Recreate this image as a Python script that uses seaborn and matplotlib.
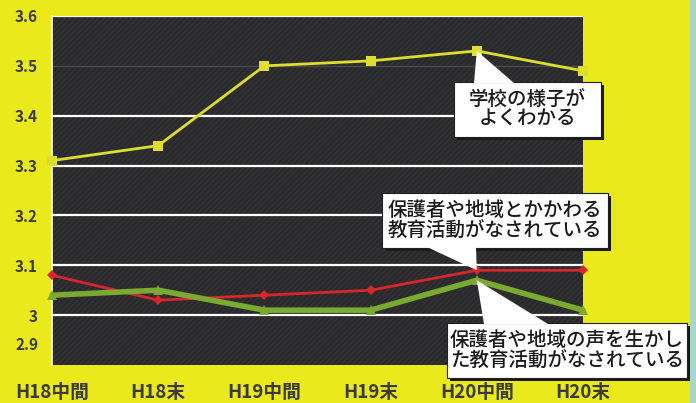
import matplotlib
matplotlib.use("Agg")
import matplotlib.pyplot as plt
from matplotlib.patches import Rectangle, Polygon
from matplotlib.transforms import ScaledTranslation
import seaborn as sns
import pandas as pd

# data
periods = ["H18中間", "H18末", "H19中間", "H19末", "H20中間", "H20末"]
school_known = [3.31, 3.34, 3.50, 3.51, 3.53, 3.49]
community_involved = [3.08, 3.03, 3.04, 3.05, 3.09, 3.09]
voices_used = [3.04, 3.05, 3.01, 3.01, 3.07, 3.01]
y_ticks = [2.9, 3.0, 3.1, 3.2, 3.3, 3.4, 3.5, 3.6]
y_labels = ["2.9", "3", "3.1", "3.2", "3.3", "3.4", "3.5", "3.6"]

label_school = "学校の様子が\nよくわかる"
label_community = "保護者や地域とかかわる\n教育活動がなされている"
label_voices = "保護者や地域の声を生かし\nた教育活動がなされている"

sns.set_style("white")
plt.rcParams["font.family"] = ["Noto Sans CJK JP", "DejaVu Sans"]

W, H = 696, 403
fig = plt.figure(figsize=(W / 100, H / 100), dpi=100)
fig.patch.set_facecolor("#e9e91c")
# teal strip on the right edge
fig.add_artist(Rectangle((690 / W, 0), 6 / W, 1, transform=fig.transFigure,
                         facecolor="#a9d6c6", lw=0))

ax = fig.add_axes([52 / W, 1 - 365 / H, (583 - 52) / W, (365 - 16) / H])
ax.set_facecolor("#2a2a2c")
ax.add_patch(Rectangle((0, 0), 1, 1, transform=ax.transAxes, facecolor="none",
                       edgecolor="#333336", hatch="//////", lw=0, zorder=0))

df = pd.DataFrame({"x": range(len(periods)), "school": school_known,
                   "community": community_involved, "voices": voices_used})

for y in [3.0, 3.1, 3.2, 3.3, 3.4, 3.6]:
    ax.axhline(y, color="white", lw=1.6, zorder=1)
ax.axhline(3.5, color="#4a4a4c", lw=1.0, zorder=1)

sns.lineplot(data=df, x="x", y="school", ax=ax, color="#dede30", lw=2,
             marker="s", markersize=7, markeredgewidth=0, zorder=3, clip_on=False)
sns.lineplot(data=df, x="x", y="community", ax=ax, color="#d8262a", lw=2,
             marker="D", markersize=5, markeredgewidth=0, zorder=3, clip_on=False)
sns.lineplot(data=df, x="x", y="voices", ax=ax, color="#7aaa30", lw=4,
             marker="^", markersize=7, markeredgewidth=0, zorder=4, clip_on=False)

ax.set_xlim(0, len(periods) - 1)
ax.set_ylim(2.9, 3.6)
ax.set_xticks(range(len(periods)))
ax.set_xticklabels(periods, fontsize=13.5, fontweight="bold", color="#3a3a3a")
ax.set_yticks(y_ticks)
ax.set_yticklabels(y_labels, fontsize=11, fontweight="bold", color="#3a3a3a")
ax.tick_params(axis="x", length=0, pad=13)
ax.tick_params(axis="y", length=0, pad=10)
ax.set_xlabel("")
ax.set_ylabel("")
for s in ["top", "right", "bottom"]:
    ax.spines[s].set_visible(False)
ax.spines["left"].set_color("white")
ax.spines["left"].set_linewidth(1.2)

# the 2.9 label sits higher than its gridline in the reference
lab = ax.get_yticklabels()[0]
lab.set_transform(lab.get_transform() + ScaledTranslation(0, 0.21, fig.dpi_scale_trans))


def px(x, y):
    return (x / W, 1 - y / H)


def data_px(i, v):
    fx, fy = fig.transFigure.inverted().transform(ax.transData.transform((i, v)))
    return fx, fy


def callout(box, tail, apex, text, fs):
    x0, y0, x1, y1 = box
    fig.add_artist(Rectangle(px(x0 + 3, y1 + 3), (x1 - x0) / W, (y1 - y0) / H,
                             transform=fig.transFigure, facecolor="#1a1a1a",
                             lw=0, zorder=5))
    fig.add_artist(Rectangle(px(x0, y1), (x1 - x0) / W, (y1 - y0) / H,
                             transform=fig.transFigure, facecolor="white",
                             edgecolor="#202020", lw=0.8, zorder=6))
    pts = [px(*tail[0]), apex, px(*tail[1])]
    fig.add_artist(Polygon(pts, closed=True, transform=fig.transFigure,
                           facecolor="white", lw=0, zorder=7))
    cx, cy = px((x0 + x1) / 2, (y0 + y1) / 2)
    fig.text(cx, cy, text, ha="center", va="center", fontsize=fs,
             fontweight="medium", color="#1a1a1a", linespacing=1.05, zorder=8)


callout((454, 82, 601, 137), [(474, 83), (514, 83)], data_px(4, school_known[4]),
        label_school, 14)
callout((382, 193, 608, 248), [(427, 247), (476, 247)], data_px(4, community_involved[4]),
        label_community, 14)
callout((447, 323, 687, 378), [(484, 324), (548, 324)], data_px(4, voices_used[4]),
        label_voices, 14)

fig.savefig("out.png", dpi=100, facecolor=fig.get_facecolor())
